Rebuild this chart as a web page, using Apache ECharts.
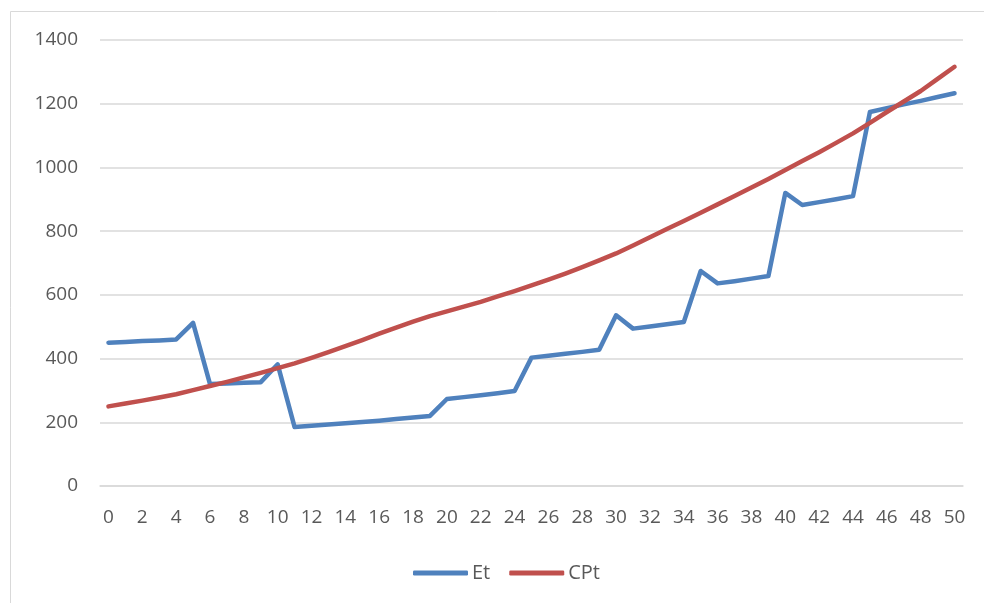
<!DOCTYPE html>
<html>
<head>
<meta charset="utf-8">
<script src="https://cdn.jsdelivr.net/npm/echarts@6/dist/echarts.min.js"></script>
<style>
  html, body { margin: 0; padding: 0; background: #fff; }
  #chart { width: 984px; height: 603px; }
</style>
</head>
<body>
<div id="chart"></div>
<script>
// Period index 0..50
const periods = Array.from({ length: 51 }, (_, i) => String(i));

// Et series
const etValues = [
  450, 452, 455, 457, 460, 512, 320, 322, 324, 326,
  382, 185, 189, 193, 197, 201, 205, 210, 215, 220,
  273, 279, 285, 291, 298, 403, 409, 415, 421, 428,
  536, 494, 501, 508, 515, 675, 636, 643, 651, 659,
  920, 882, 891, 900, 910, 1174, 1186, 1198, 1209, 1221,
  1233
];

// CPt series
const cptValues = [
  250, 259, 268, 278, 288, 301, 314, 327, 341, 355,
  370, 385, 402, 420, 439, 458, 478, 497, 516, 533,
  548, 563, 578, 595, 612, 630, 648, 667, 687, 708,
  730, 755, 781, 807, 832, 858, 884, 910, 937, 964,
  992, 1020, 1048, 1077, 1107, 1140, 1174, 1207, 1240, 1278,
  1316
];

const seriesNames = ['Et', 'CPt'];

const FONT = "'Open Sans', 'Liberation Sans', sans-serif";
const TEXT = '#595959';
const GRID_LINE = '#D9D9D9';

const chart = echarts.init(document.getElementById('chart'), null, { renderer: 'canvas' });

chart.setOption({
  backgroundColor: '#ffffff',
  animation: false,
  graphic: [{
    type: 'rect',
    shape: { x: 10.5, y: 11.5, width: 1200, height: 800 },
    style: { fill: 'none', stroke: GRID_LINE, lineWidth: 1 },
    silent: true,
    z: -10
  }],
  grid: { left: 100, right: 21, top: 40, bottom: 117, containLabel: false },
  xAxis: {
    type: 'category',
    data: periods,
    boundaryGap: true,
    axisLine: { show: true, lineStyle: { color: GRID_LINE, width: 1.5 } },
    axisTick: { show: false },
    axisLabel: {
      interval: 1,
      color: TEXT,
      fontFamily: FONT,
      fontSize: 19,
      margin: 22
    },
    splitLine: { show: false }
  },
  yAxis: {
    type: 'value',
    min: 0,
    max: 1400,
    interval: 200,
    axisLine: { show: false },
    axisTick: { show: false },
    axisLabel: {
      color: TEXT,
      fontFamily: FONT,
      fontSize: 19,
      margin: 22,
      formatter: (v) => String(v)
    },
    splitLine: { show: true, lineStyle: { color: GRID_LINE, width: 1.5 } }
  },
  legend: {
    data: seriesNames,
    bottom: 15,
    left: 408,
    itemWidth: 55,
    itemHeight: 5,
    itemGap: 19,
    icon: 'roundRect',
    textStyle: { color: TEXT, fontFamily: FONT, fontSize: 20, padding: [0, 0, 0, -1] }
  },
  series: [
    {
      name: seriesNames[0],
      type: 'line',
      data: etValues,
      symbol: 'none',
      lineStyle: { color: '#4F81BD', width: 4.5, cap: 'round', join: 'round' },
      itemStyle: { color: '#4F81BD' },
      z: 2
    },
    {
      name: seriesNames[1],
      type: 'line',
      data: cptValues,
      symbol: 'none',
      lineStyle: { color: '#C0504D', width: 4.5, cap: 'round', join: 'round' },
      itemStyle: { color: '#C0504D' },
      z: 3
    }
  ]
});
</script>
</body>
</html>
